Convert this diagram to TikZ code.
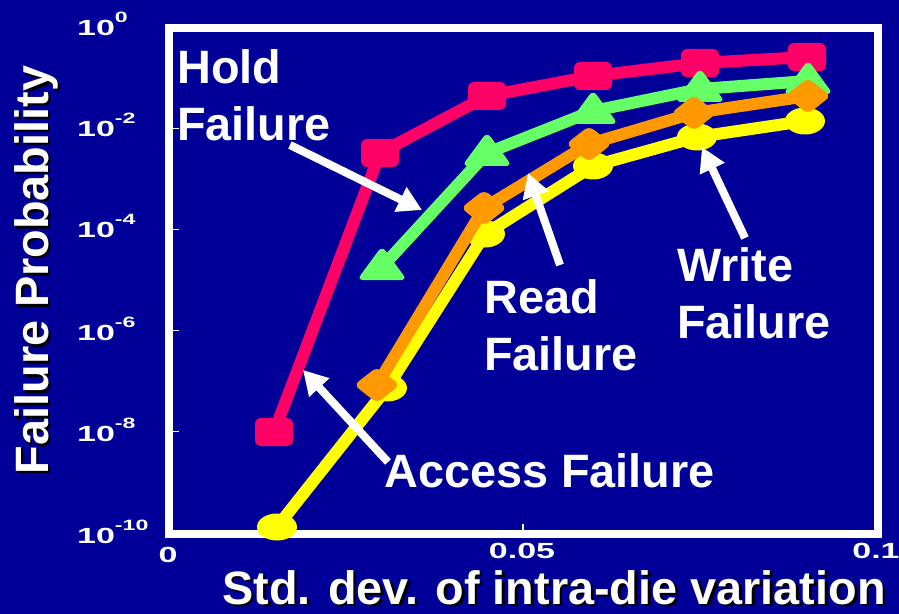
\documentclass[tikz,border=0pt]{standalone}
\usepackage{fontspec}
\usepackage{graphicx}
\setmainfont{Liberation Sans}
\usetikzlibrary{arrows.meta}
\definecolor{bgblue}{RGB}{0,0,153}
\definecolor{holdred}{RGB}{255,0,102}
\definecolor{readgreen}{RGB}{102,255,102}
\definecolor{accorange}{RGB}{255,153,0}
\definecolor{wryellow}{RGB}{255,255,0}
\newcommand{\tenpow}[1]{\scalebox{1.55}[1]{10\raisebox{13bp}{\fontsize{15}{15}\selectfont #1}}}
\newcommand{\xnum}[1]{\scalebox{1.55}[1]{#1}}
\tikzset{
  pics/sqm/.style={code={\fill[#1, rounded corners=6bp] (-19,-14) rectangle (19,14);}},
  pics/trim/.style={code={\fill[#1, rounded corners=6bp] (-25,13) -- (0,-21) -- (25,13) -- cycle;}},
  pics/diam/.style={code={\fill[#1, rounded corners=6bp] (-23,0) -- (0,-18) -- (23,0) -- (0,18) -- cycle;}},
  pics/ellm/.style={code={\fill[#1] (0,0) ellipse [x radius=20, y radius=13.5];}},
}
\begin{document}
\begin{tikzpicture}[x=1bp,y=-1bp,
  lbl/.style={text=white, font=\fontsize{47}{58}\selectfont\bfseries, inner sep=0pt, align=left},
  title/.style={font=\fontsize{47}{50}\selectfont\bfseries, inner sep=0pt, text depth=0pt},
  ptr/.style={draw=white, line width=8bp, -{Triangle[length=24bp,width=26bp]}},
  ser/.style={line width=12bp, line join=round, line cap=round},
  ticklab/.style={text=white, inner sep=0pt, font=\fontsize{22}{22}\selectfont\bfseries},
  tickmark/.style={draw=white, line width=1.2bp}
]
\useasboundingbox (0,0) rectangle (899,614);
\fill[bgblue] (0,0) rectangle (899,614);

% frame
\draw[white, line width=8bp] (169,28) rectangle (878,534);
\foreach \yy in {128.2,229.4,330.6,431.8} \draw[tickmark] (173,\yy) -- (179,\yy);
\draw[tickmark] (523,530) -- (523,524);

% tick labels
\node[ticklab, anchor=base west] (y0) at (77,36) {\tenpow{0}};
\node[ticklab, anchor=base west] (y2) at (77,137) {\tenpow{-2}};
\node[ticklab, anchor=base west] (y4) at (77,238) {\tenpow{-4}};
\node[ticklab, anchor=base west] (y6) at (77,340) {\tenpow{-6}};
\node[ticklab, anchor=base west] (y8) at (77,441) {\tenpow{-8}};
\node[ticklab, anchor=base west] (y10) at (77,543) {\tenpow{-10}};
\node[ticklab, anchor=base] (x0) at (168,562) {\xnum{0}};
\node[ticklab, anchor=base] (x5) at (522,558) {\xnum{0.05}};
\node[ticklab, anchor=base] (x10) at (876,558) {\xnum{0.1}};

% axis titles (with drop shadow)
\node[title, text=black, rotate=90, anchor=base] at (50.5,272.5) {Failure Probability};
\node[title, text=white, rotate=90, anchor=base] (ytitle) at (48,270) {Failure Probability};
\node[title, text=black, anchor=base] at (556.5,606.5) {Std. dev. of intra-die variation};
\node[title, text=white, anchor=base] (xtitle) at (554,604) {Std. dev. of intra-die variation};

% data points
\coordinate (r1) at (274,432); \coordinate (r2) at (380,153); \coordinate (r3) at (487,96);
\coordinate (r4) at (593,76);  \coordinate (r5) at (700,63);  \coordinate (r6) at (807,57);
\coordinate (g2) at (382,267); \coordinate (g3) at (487,153); \coordinate (g4) at (593,111);
\coordinate (g5) at (700,89);  \coordinate (g6) at (808,81);
\coordinate (o2) at (377,385); \coordinate (o3) at (484,208); \coordinate (o4) at (589,144);
\coordinate (o5) at (694,113); \coordinate (o6) at (808,96);
\coordinate (w1) at (277,527); \coordinate (w2) at (387,388); \coordinate (w3) at (485,234);
\coordinate (w4) at (593,166); \coordinate (w5) at (697,137); \coordinate (w6) at (805,121);

% hold (red)
\draw[ser, holdred] (r1) -- (r2) -- (r3) -- (r4) -- (r5) -- (r6);
\foreach \p in {r1,r2,r3,r4,r5,r6} \pic at (\p) {sqm=holdred};
% yellow
\draw[ser, wryellow] (w1) -- (w2) -- (w3) -- (w4) -- (w5) -- (w6);
\foreach \p in {w1,w2,w3,w4,w5,w6} \pic at (\p) {ellm=wryellow};
% green
\draw[ser, readgreen] (g2) -- (g3) -- (g4) -- (g5) -- (g6);
\foreach \p in {g2,g3,g4,g5,g6} \pic at (\p) {trim=readgreen};
% orange
\draw[ser, accorange] (o2) -- (o3) -- (o4) -- (o5) -- (o6);
\foreach \p in {o2,o3,o4,o5,o6} \pic at (\p) {diam=accorange};

% labels
\node[lbl, anchor=north west] (hold) at (177,49) {Hold\\Failure};
\node[lbl, anchor=north west] (read) at (484,279) {Read\\Failure};
\node[lbl, anchor=north west] (write) at (677,247) {Write\\Failure};
\node[lbl, anchor=north west] (access) at (384,453) {Access Failure};

% pointers
\coordinate (hs) at (290,145); \coordinate (he) at (422,210);
\coordinate (rs) at (560,265); \coordinate (re) at (528,173);
\coordinate (ws) at (745,238); \coordinate (we) at (702,147);
\coordinate (as) at (388,462); \coordinate (ae) at (303,370);
\draw[ptr] (hs) -- (he);
\draw[ptr] (rs) -- (re);
\draw[ptr] (ws) -- (we);
\draw[ptr] (as) -- (ae);
\end{tikzpicture}
\end{document}
